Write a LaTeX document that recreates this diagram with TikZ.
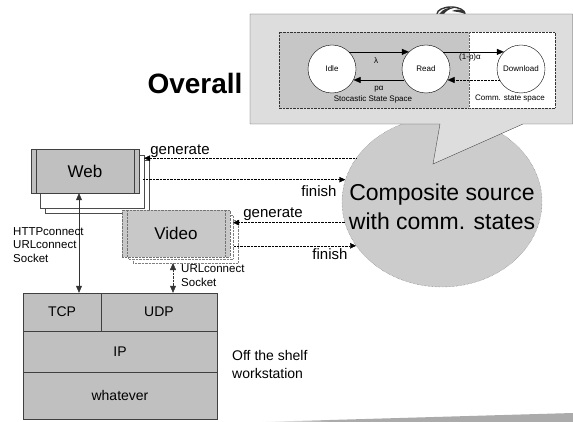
\documentclass[tikz,border=0pt]{standalone}
\usepackage{fontspec}
\setmainfont{Liberation Sans}
\usetikzlibrary{arrows.meta,shapes.geometric}
\definecolor{boxgray}{HTML}{C0C0C0}
\definecolor{videogray}{HTML}{C8C8C8}
\definecolor{cloudgray}{HTML}{CCCCCC}
\definecolor{calloutgray}{HTML}{DDDDDD}
\definecolor{innergray}{HTML}{C6C6C6}
\definecolor{bargray}{HTML}{ABABAB}
\newcommand\myfs[2]{\fontsize{#1}{#2}\selectfont}
\begin{document}
\begin{tikzpicture}[x=1pt,y=-1pt,
  tip/.style={-{Triangle[length=7pt,width=6pt]}},
  dtip/.style={{Triangle[length=7pt,width=6pt]}-{Triangle[length=7pt,width=6pt]}},
  smalltip/.style={-{Triangle[length=6pt,width=5.5pt]}},
  webbox/.style={draw=black!75,fill=boxgray,minimum width=108pt,minimum height=44pt,inner sep=0pt,font=\myfs{17}{20}},
  videobox/.style={draw=black!55,densely dotted,fill=videogray,minimum width=108pt,minimum height=47pt,inner sep=0pt,font=\myfs{17}{20}},
  shadowbox/.style={draw=black!70,fill=white},
  vshadowbox/.style={draw=black!50,densely dotted,fill=white},
  layer/.style={draw=black!75,fill=boxgray,inner sep=0pt,font=\myfs{14}{16}},
  state/.style={circle,draw=black,fill=white,minimum size=48pt,inner sep=0pt,font=\myfs{8}{9}},
  tiny/.style={font=\myfs{8}{9},inner sep=0pt},
  msg/.style={font=\myfs{15}{17},inner sep=0pt},
  side/.style={anchor=north west,align=left,inner sep=0pt}]
\useasboundingbox (0,0) rectangle (573,422);

% grey strip along the bottom edge
\shade[left color=white,right color=bargray] (257,422) -- (330,420) -- (330,422) -- cycle;
\fill[bargray] (330,420) -- (573,413) -- (573,422) -- (330,422) -- cycle;

% globe emblem peeking above the callout
\draw[black!80,line width=1.4pt] (437,14) arc[start angle=180,end angle=360,x radius=14,y radius=7];
\fill[black!80] (439,14) .. controls (443,9) and (448,7) .. (454,8) .. controls (449,9) and (446,11) .. (444,14) -- cycle;
\fill[black!80] (452,11) .. controls (456,9) and (461,9) .. (465,12) -- (465,14) .. controls (461,12) and (456,12) .. (452,11) -- cycle;

% composite source cloud
\node[ellipse,draw=black!60,densely dotted,fill=cloudgray,minimum width=200pt,minimum height=170pt,
      inner sep=0pt] (cs) at (442,202) {};
\node[align=center,font=\myfs{23}{29},inner sep=0pt] (cstext) at (442,207) {Composite source\\with comm. states};

% callout with the state machine
\draw[draw=black!70,fill=calloutgray] (250,14) -- (572.5,14) -- (572.5,124) -- (523,124) -- (433,164) -- (440,124) -- (250,124) -- cycle;
\fill[innergray] (279,32) rectangle (469,108);
\fill[white] (469,32) rectangle (555,108);
\draw[black!80,densely dotted] (279,32) rectangle (555,108);
\draw[black!60,densely dotted] (469,32) -- (469,108);

\node[state] (idle) at (332,69) {Idle};
\node[state] (read) at (426,69) {Read};
\node[state] (dl) at (521,69) {Download};
\draw[tip] (idle.45) -- (read.135);
\draw[tip] (read.-153) -- (idle.-27);
\draw[tip] (read.45) -- (dl.135);
\draw[tip,densely dotted] (dl.-153) -- (read.-27);
\node[tiny] at (376,61) {λ};
\node[tiny] at (379,89) {pα};
\node[tiny] at (470,57) {(1-p)α};
\node[tiny] at (373,99) {Stocastic State Space};
\node[tiny] at (510,99) {Comm. state space};

\node[font=\bfseries\myfs{28}{32},inner sep=0pt] (overall) at (195,83) {Overall};

% web source with stacked instances
\draw[shadowbox] (45,160) rectangle (149,213);
\draw[shadowbox] (40,155) rectangle (144,208);
\node[webbox] (web) at (85,171) {Web};
\draw[black!75] ([xshift=5pt]web.north west) -- ([xshift=5pt]web.south west);
\draw[black!75] ([xshift=-5pt]web.north east) -- ([xshift=-5pt]web.south east);

% video source with stacked instances
\draw[vshadowbox] (133,220) rectangle (238,263);
\draw[vshadowbox] (128,215) rectangle (233,259);
\node[videobox] (video) at (176,233.5) {Video};
\draw[black!55,densely dotted] ([xshift=5pt]video.north west) -- ([xshift=5pt]video.south west);
\draw[black!55,densely dotted] ([xshift=-5pt]video.north east) -- ([xshift=-5pt]video.south east);

% protocol stack
\node[layer,minimum width=78pt,minimum height=38pt] (tcp) at (62,312) {TCP};
\node[layer,minimum width=116pt,minimum height=38pt] (udp) at (159,312) {UDP};
\node[layer,minimum width=194pt,minimum height=41pt] (ip) at (120,351.5) {IP};
\node[layer,minimum width=194pt,minimum height=47pt] (what) at (120,395.5) {whatever};

% connections to the stack
\coordinate (wx) at (79,0);
\draw[dtip,black!80] (wx |- web.south) -- (wx |- tcp.north);
\coordinate (vtop) at (173,263);
\draw[dtip,densely dotted,black!80] (vtop) -- (vtop |- udp.north);
\node[side,font=\myfs{11.5}{13.5}] (apiweb) at (13,227) {HTTPconnect\\URLconnect\\Socket};
\node[side,font=\myfs{11.5}{14}] (apivideo) at (181,264) {URLconnect\\Socket};

% generate / finish messages
\coordinate (wgen) at (144,0);
\coordinate (wfin) at (143,0);
\coordinate (vgen) at (233,0);
\coordinate (vfin) at (234,0);
\draw[smalltip,densely dotted] (cs.153) -- (cs.153 -| wgen);
\draw[smalltip,densely dotted] (cs.167 -| wfin) -- (cs.167);
\draw[smalltip,densely dotted] (cs.192) -- (cs.192 -| vgen);
\draw[smalltip,densely dotted] (cs.207 -| vfin) -- (cs.207);
\node[msg] at (180,151) {generate};
\node[msg] at (319,191) {finish};
\node[msg] at (273,214) {generate};
\node[msg] at (330,254) {finish};

\node[side,font=\myfs{14}{18}] (ots) at (232,350) {Off the shelf\\workstation};
\end{tikzpicture}
\end{document}
